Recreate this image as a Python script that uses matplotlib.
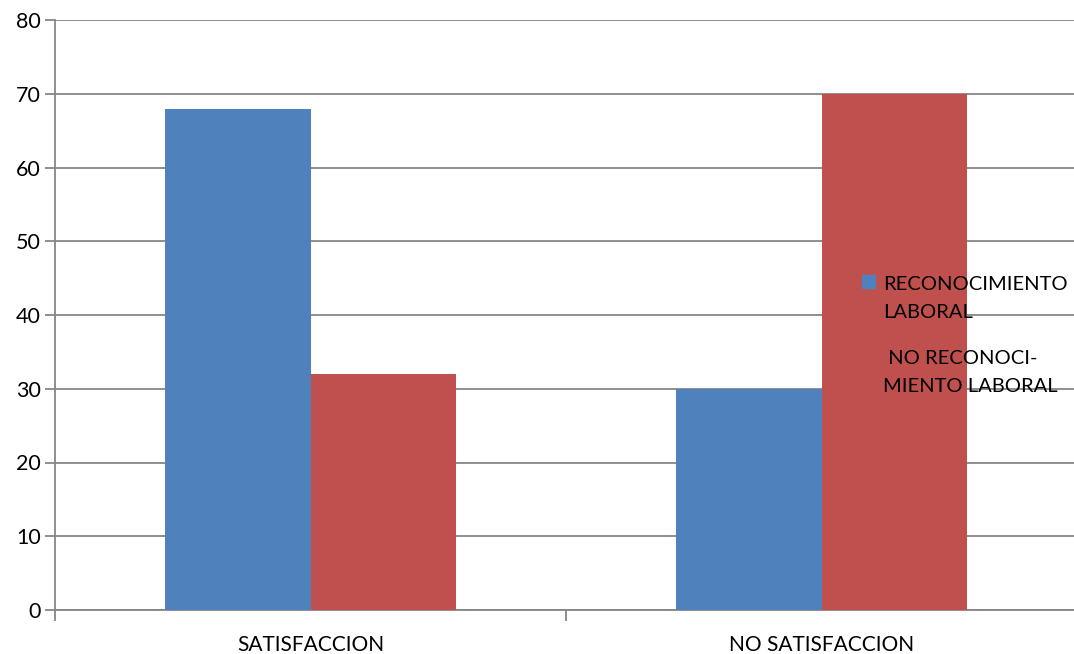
import numpy as np
import matplotlib.pyplot as plt
from matplotlib.patches import Rectangle

categories = ['SATISFACCION', 'NO SATISFACCION']
series_names = ['RECONOCIMIENTO\nLABORAL', ' NO RECONOCI-\nMIENTO LABORAL']
reconocimiento = [68, 30]
no_reconocimiento = [32, 70]
colors = ['#4f81bd', '#c0504d']

plt.rcParams['font.family'] = ['Lato', 'DejaVu Sans']

W, H = 1074, 654
fig = plt.figure(figsize=(W / 100, H / 100), dpi=100)
ax = fig.add_axes([55 / W, 44 / H, 1022 / W, 590 / H])

x = np.arange(len(categories))
w = 0.2857
ax.bar(x - w / 2, reconocimiento, w, color=colors[0], zorder=3)
ax.bar(x + w / 2, no_reconocimiento, w, color=colors[1], zorder=3)

ax.set_xlim(-0.5, 1.5)
ax.set_ylim(0, 80)
ax.set_yticks(range(0, 81, 10))
ax.yaxis.grid(True, color='#868686', linewidth=1.3, zorder=0)

# category labels sit between the boundary ticks
ax.set_xticks([-0.5, 0.5, 1.5])
ax.set_xticklabels([])
ax.set_xticks(x, minor=True)
ax.set_xticklabels(categories, minor=True)
ax.tick_params(axis='x', which='minor', length=0, pad=18, labelsize=15)
ax.tick_params(axis='x', which='major', length=8, width=1.3, color='#868686')
ax.tick_params(axis='y', length=7, width=1.3, color='#868686', labelsize=15.5, pad=3)

for s in ['top', 'right']:
    ax.spines[s].set_visible(False)
for s in ['left', 'bottom']:
    ax.spines[s].set_color('#868686')
    ax.spines[s].set_linewidth(1.3)

# legend drawn by hand: square beside the first line of each label
legend_tops = [276, 350]
for name, color, top in zip(series_names, colors, legend_tops):
    fig.patches.append(Rectangle((862 / W, 1 - (top + 12) / H), 13 / W, 13 / H,
                                 transform=fig.transFigure, color=color, zorder=5))
    fig.text(883 / W, 1 - top / H, name, fontsize=14.5, va='top', ha='left',
             linespacing=1.75, zorder=6)

fig.savefig('out.png', dpi=100)
